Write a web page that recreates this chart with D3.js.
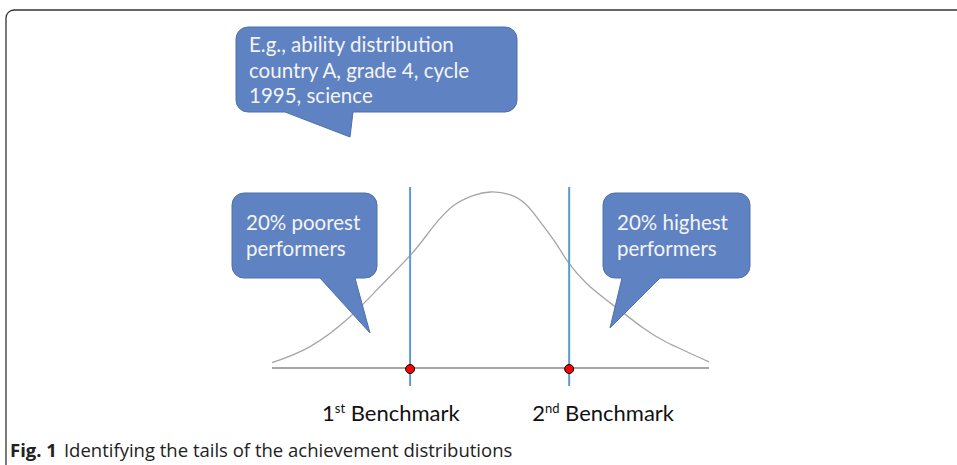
<!DOCTYPE html>
<html>
<head>
<meta charset="utf-8">
<script src="https://cdn.jsdelivr.net/npm/d3@7"></script>
<style>
  body { margin: 0; background: #fff; }
  svg { display: block; }
</style>
</head>
<body>
<script>
var width = 957;
var height = 465;

// standardised score (z) and relative density
var curveZ = [-2.5, -2.07, -1.61, -1.23, -0.9, -0.66, -0.43, -0.2, 0, 0.22, 0.415, 0.6, 0.76, 0.89, 1.1, 1.37, 1.74, 2.02, 2.5];
var curveD = [0.03, 0.12, 0.29, 0.48, 0.65, 0.8, 0.92, 0.98, 1.0, 0.985, 0.925, 0.81, 0.7, 0.6, 0.48, 0.37, 0.23, 0.145, 0.035];

var benchmarks = [-0.92, 0.9];
var benchmarkOrd = ['1', '2'];
var benchmarkSup = ['st', 'nd'];

var topNote = ['E.g., ability distribution', 'country A, grade 4, cycle', '1995, science'];
var lowNote = ['20% poorest', 'performers'];
var highNote = ['20% highest', 'performers'];

var calloutFill = '#5f82c3';
var calloutEdge = '#4e70ac';

var svg = d3.select('body')
    .append('svg')
    .attr('width', width)
    .attr('height', height);

// figure frame (top + left edge, rounded corner)
svg.append('path')
    .attr('d', 'M6,' + height + ' V18 A8,8 0 0 1 14,10 H' + width)
    .attr('fill', 'none')
    .attr('stroke', '#333')
    .attr('stroke-width', 1.3);

var xScale = d3.scaleLinear()
    .domain([-2.5, 2.5])
    .range([272, 709]);

var yScale = d3.scaleLinear()
    .domain([0, 1])
    .range([368, 192]);

// baseline
svg.append('line')
    .attr('x1', xScale(-2.5))
    .attr('x2', xScale(2.5))
    .attr('y1', yScale(0))
    .attr('y2', yScale(0))
    .attr('stroke', '#a6a6a6')
    .attr('stroke-width', 2);

// bell curve
var line = d3.line()
    .x(function (d) { return xScale(d[0]); })
    .y(function (d) { return yScale(d[1]); })
    .curve(d3.curveNatural);

svg.append('path')
    .datum(d3.zip(curveZ, curveD))
    .attr('d', line)
    .attr('fill', 'none')
    .attr('stroke', '#a6a6a6')
    .attr('stroke-width', 1.3);

// benchmark lines
svg.selectAll('.bm')
    .data(benchmarks)
    .enter()
    .append('line')
    .attr('class', 'bm')
    .attr('x1', function (d) { return xScale(d); })
    .attr('x2', function (d) { return xScale(d); })
    .attr('y1', 187)
    .attr('y2', 386)
    .attr('stroke', '#5b9bd5')
    .attr('stroke-width', 2);

svg.selectAll('.dot')
    .data(benchmarks)
    .enter()
    .append('circle')
    .attr('class', 'dot')
    .attr('cx', function (d) { return xScale(d); })
    .attr('cy', yScale(0) + 1)
    .attr('r', 4.5)
    .attr('fill', '#ff0000')
    .attr('stroke', '#000')
    .attr('stroke-width', 1);

var labels = svg.selectAll('.bmlabel')
    .data(benchmarks)
    .enter()
    .append('text')
    .attr('class', 'bmlabel')
    .attr('x', function (d, i) { return xScale(d) + (i === 0 ? -88 : -37); })
    .attr('y', 421)
    .attr('font-family', 'Lato, sans-serif')
    .attr('font-size', 22)
    .attr('fill', '#111');

labels.append('tspan').text(function (d, i) { return benchmarkOrd[i]; });
labels.append('tspan')
    .attr('font-size', 13)
    .attr('dy', -8)
    .text(function (d, i) { return benchmarkSup[i]; });
labels.append('tspan')
    .attr('dy', 8)
    .text(function (d, i) { return ' Benchmark'; });

// speech-bubble callouts
function callout(x, y, w, h, b1, b2, tx, ty, lines, tx0, ty0) {
    var r = 12;
    var p = d3.path();
    p.moveTo(x + r, y);
    p.lineTo(x + w - r, y);
    p.arcTo(x + w, y, x + w, y + r, r);
    p.lineTo(x + w, y + h - r);
    p.arcTo(x + w, y + h, x + w - r, y + h, r);
    p.lineTo(b2, y + h);
    p.lineTo(tx, ty);
    p.lineTo(b1, y + h);
    p.lineTo(x + r, y + h);
    p.arcTo(x, y + h, x, y + h - r, r);
    p.lineTo(x, y + r);
    p.arcTo(x, y, x + r, y, r);
    p.closePath();

    svg.append('path')
        .attr('d', p.toString())
        .attr('fill', calloutFill)
        .attr('stroke', calloutEdge)
        .attr('stroke-width', 1);

    svg.append('g')
        .selectAll('text')
        .data(lines)
        .enter()
        .append('text')
        .attr('x', tx0)
        .attr('y', function (d, i) { return ty0 + i * 25.5; })
        .attr('font-family', 'Lato, sans-serif')
        .attr('font-size', 20.5)
        .attr('fill', '#f4f4f4')
        .text(function (d) { return d; });
}

callout(236, 27, 281, 85, 285, 353, 350, 137, topNote, 249, 52);
callout(232, 193, 145, 85, 320, 355, 370, 333, lowNote, 246, 230);
callout(603, 193, 147, 85, 622, 660, 610, 328, highNote, 617, 230);

// caption
var cap = svg.append('text')
    .attr('x', 10)
    .attr('y', 457)
    .attr('font-family', '"Open Sans", sans-serif')
    .attr('font-size', 18.5)
    .attr('fill', '#222');
cap.append('tspan').attr('font-weight', 'bold').text('Fig. 1');
cap.append('tspan').attr('dx', 7).text('Identifying the tails of the achievement distributions');
</script>
</body>
</html>
